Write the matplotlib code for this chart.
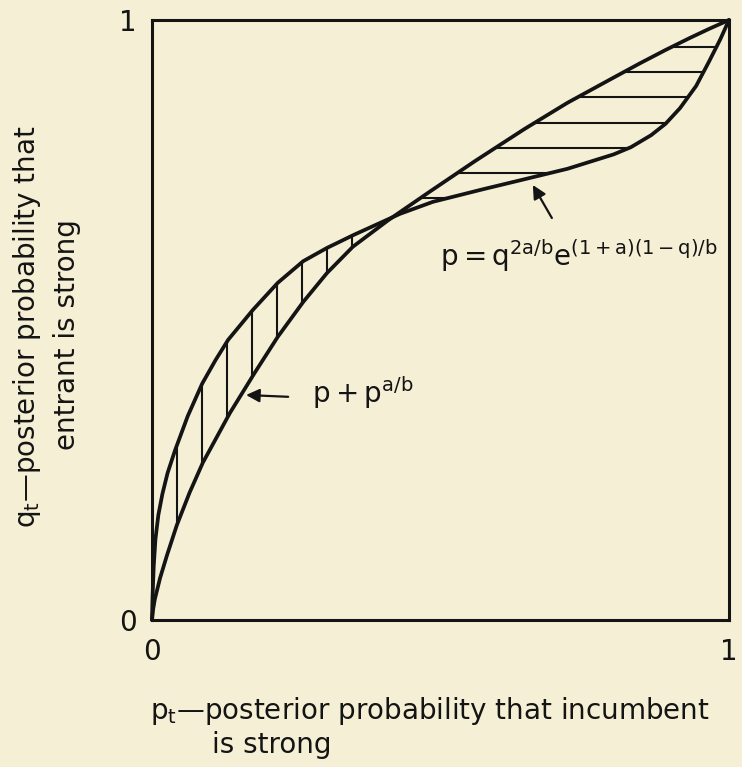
import matplotlib
matplotlib.use('Agg')
import matplotlib.pyplot as plt
import numpy as np

# ---- data (p on x, q on y) ----
# curve q = p^{a/b}  (lower at left, upper at right)
curve_a_p = [0.0, 0.002, 0.005, 0.014, 0.026, 0.043, 0.065, 0.088, 0.135, 0.178, 0.218,
             0.262, 0.303, 0.348, 0.409, 0.43, 0.48, 0.56, 0.645, 0.72, 0.80, 0.846,
             0.89, 0.932, 0.965, 1.0]
curve_a_q = [0.0, 0.018, 0.035, 0.07, 0.108, 0.158, 0.212, 0.262, 0.345, 0.412, 0.472,
             0.530, 0.578, 0.622, 0.666, 0.680, 0.713, 0.765, 0.818, 0.862, 0.904, 0.928,
             0.950, 0.970, 0.985, 1.0]
# curve p = q^{2a/b} e^{(1+a)(1-q)/b}  (upper at left, lower at right)
curve_b_p = [0.0, 0.001, 0.003, 0.006, 0.011, 0.018, 0.027, 0.04, 0.062, 0.087, 0.11,
             0.132, 0.175, 0.218, 0.262, 0.303, 0.35, 0.43, 0.487, 0.574, 0.643, 0.72,
             0.80, 0.83, 0.865, 0.89, 0.915, 0.943, 0.965, 0.985, 1.0]
curve_b_q = [0.0, 0.04, 0.09, 0.135, 0.175, 0.21, 0.245, 0.283, 0.34, 0.394, 0.433,
             0.467, 0.517, 0.562, 0.598, 0.620, 0.642, 0.677, 0.697, 0.718, 0.734, 0.752,
             0.776, 0.788, 0.808, 0.827, 0.853, 0.890, 0.930, 0.968, 1.0]
# hatch positions
hatch_left_p = [0.043, 0.087, 0.130, 0.173, 0.217, 0.260, 0.303, 0.347]
hatch_right_q = [0.955, 0.913, 0.871, 0.829, 0.787, 0.745, 0.703]
tick_values = [0, 1]
tick_labels = ['0', '1']

label_a = r'$p+p^{a/b}$'
label_b = r'$p=q^{2a/b}e^{(1+a)(1-q)/b}$'
xlabel_1 = 'p$_t$—posterior probability that incumbent'
xlabel_2 = 'is strong'
ylabel_1 = 'q$_t$—posterior probability that'
ylabel_2 = 'entrant is strong'

plt.rcParams['font.family'] = ['DejaVu Sans']
plt.rcParams['mathtext.default'] = 'regular'

W, H = 742, 767
INK = '#141414'
BG = '#f5f0d5'
fig = plt.figure(figsize=(W / 100, H / 100), dpi=100)
fig.patch.set_facecolor(BG)
ax = fig.add_axes([152 / W, 1 - 620 / H, 577 / W, 600 / H])
ax.set_facecolor(BG)
ax.set_xlim(0, 1)
ax.set_ylim(0, 1)
for s in ax.spines.values():
    s.set_linewidth(2.2)
    s.set_color(INK)

ax.plot(curve_a_p, curve_a_q, color=INK, lw=2.7, solid_joinstyle='round',
        solid_capstyle='round', clip_on=False)
ax.plot(curve_b_p, curve_b_q, color=INK, lw=2.7, solid_joinstyle='round',
        solid_capstyle='round', clip_on=False)

lo = np.interp(hatch_left_p, curve_a_p, curve_a_q)
hi = np.interp(hatch_left_p, curve_b_p, curve_b_q)
ax.vlines(hatch_left_p, lo, hi, color=INK, lw=1.5)
xl = np.interp(hatch_right_q, curve_a_q, curve_a_p)
xr = np.interp(hatch_right_q, curve_b_q, curve_b_p)
ax.hlines(hatch_right_q, xl, xr, color=INK, lw=1.5)

ax.set_xticks(tick_values)
ax.set_xticklabels(tick_labels)
ax.set_yticks(tick_values)
ax.set_yticklabels(tick_labels)
ax.tick_params(axis='both', length=0, labelsize=20, colors=INK)
ax.tick_params(axis='x', pad=13)
ax.tick_params(axis='y', pad=11)

arrow = dict(arrowstyle='-|>', color=INK, lw=1.6, mutation_scale=20, shrinkA=0, shrinkB=0)
ax.annotate('', xy=(0.163, 0.375), xytext=(0.236, 0.372), arrowprops=arrow)
ax.text(0.277, 0.362, label_a, fontsize=20, va='baseline', ha='left', color=INK)
ax.annotate('', xy=(0.660, 0.725), xytext=(0.693, 0.670), arrowprops=arrow)
ax.text(0.499, 0.590, label_b, fontsize=20, va='baseline', ha='left', color=INK)

fig.text(150 / W, 1 - 719 / H, xlabel_1, fontsize=20, va='baseline', ha='left', color=INK)
fig.text(212 / W, 1 - 753 / H, xlabel_2, fontsize=20, va='baseline', ha='left', color=INK)
fig.text(35 / W, 1 - 528 / H, ylabel_1, fontsize=20, rotation=90, rotation_mode='anchor',
         va='baseline', ha='left', color=INK)
fig.text(75 / W, 1 - 450 / H, ylabel_2, fontsize=20, rotation=90, rotation_mode='anchor',
         va='baseline', ha='left', color=INK)

fig.savefig('out.png', dpi=100, facecolor=BG)
